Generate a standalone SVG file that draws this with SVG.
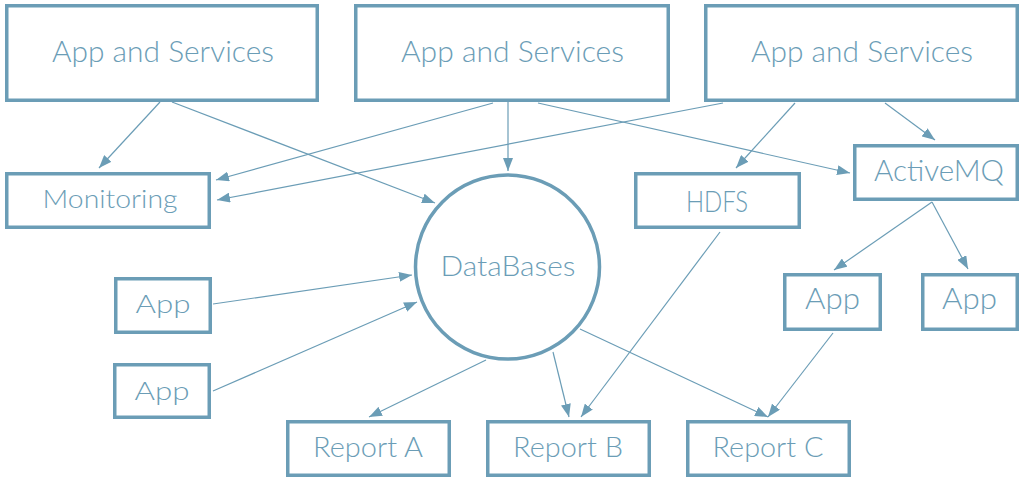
<svg xmlns="http://www.w3.org/2000/svg" width="1033" height="480" viewBox="0 0 1033 480">
<style>
.n{fill:#fff;stroke:#6b9db6;stroke-width:3.5}
.t{font-family:Lato,"Liberation Sans",sans-serif;font-weight:300;fill:#6b9db6;text-anchor:middle}
.big{font-size:30px}
.sm{font-size:25px}
.md{font-size:27px}
.lg{font-size:29px}
.c{stroke:#6b9db6;stroke-width:1.2;fill:none;marker-end:url(#ah)}
</style>
<defs>
<marker id="ah" markerUnits="userSpaceOnUse" markerWidth="14" markerHeight="10" refX="13" refY="5" orient="auto">
<path d="M0,0 L13,5 L0,10 z" fill="#6b9db6"/>
</marker>
</defs>
<rect width="1033" height="480" fill="#fff"/>
<g id="connectors">
<line class="c" x1="160" y1="102" x2="99" y2="168"/>
<line class="c" x1="172" y1="102" x2="435" y2="203"/>
<line class="c" x1="493" y1="103" x2="216" y2="180"/>
<line class="c" x1="723" y1="103" x2="217" y2="200"/>
<line class="c" x1="508" y1="101" x2="508" y2="171"/>
<line class="c" x1="538" y1="103" x2="850" y2="173"/>
<line class="c" x1="795" y1="103" x2="736" y2="168"/>
<line class="c" x1="885" y1="103" x2="935" y2="140"/>
<line class="c" x1="932" y1="202" x2="834" y2="270"/>
<line class="c" x1="932" y1="202" x2="968" y2="269"/>
<line class="c" x1="720" y1="232" x2="581" y2="417"/>
<line class="c" x1="833" y1="333" x2="768" y2="417"/>
<line class="c" x1="580" y1="329" x2="768" y2="417"/>
<line class="c" x1="553" y1="352" x2="569" y2="417"/>
<line class="c" x1="486" y1="360" x2="369" y2="417"/>
<line class="c" x1="213" y1="304" x2="412" y2="275"/>
<line class="c" x1="213" y1="391" x2="417" y2="302"/>
</g>
<g id="svc1"><rect class="n" x="6.75" y="5.75" width="310.5" height="94.5"/><text class="t big" x="163" y="62" textLength="222" lengthAdjust="spacingAndGlyphs">App and Services</text></g>
<g id="svc2"><rect class="n" x="355.75" y="5.75" width="312.5" height="94.5"/><text class="t big" x="512.5" y="62" textLength="223" lengthAdjust="spacingAndGlyphs">App and Services</text></g>
<g id="svc3"><rect class="n" x="705.75" y="5.75" width="311.5" height="94.5"/><text class="t big" x="862" y="62" textLength="222" lengthAdjust="spacingAndGlyphs">App and Services</text></g>
<g id="monitoring"><rect class="n" x="6.75" y="173.75" width="202.5" height="53.5"/><text class="t sm" x="110" y="208" textLength="135" lengthAdjust="spacingAndGlyphs">Monitoring</text></g>
<g id="databases"><circle class="n" cx="507.5" cy="267" r="92"/><text class="t md" x="508" y="276" textLength="135" lengthAdjust="spacingAndGlyphs">DataBases</text></g>
<g id="hdfs"><rect class="n" x="635.75" y="173.75" width="163.5" height="53.5"/><text class="t lg" x="717" y="212" textLength="62" lengthAdjust="spacingAndGlyphs">HDFS</text></g>
<g id="activemq"><rect class="n" x="854.75" y="145.75" width="162.5" height="53.5"/><text class="t lg" x="939" y="181" textLength="130" lengthAdjust="spacingAndGlyphs">ActiveMQ</text></g>
<g id="app1"><rect class="n" x="115.75" y="278.75" width="94.5" height="53.5"/><text class="t sm" x="163" y="313" textLength="55" lengthAdjust="spacingAndGlyphs">App</text></g>
<g id="app2"><rect class="n" x="114.75" y="364.75" width="94.5" height="52.5"/><text class="t sm" x="162" y="400" textLength="55" lengthAdjust="spacingAndGlyphs">App</text></g>
<g id="app3"><rect class="n" x="784.75" y="274.75" width="95.5" height="54.5"/><text class="t lg" x="832.5" y="309" textLength="55" lengthAdjust="spacingAndGlyphs">App</text></g>
<g id="app4"><rect class="n" x="922.75" y="274.75" width="94.5" height="54.5"/><text class="t lg" x="969.5" y="309" textLength="55" lengthAdjust="spacingAndGlyphs">App</text></g>
<g id="reportA"><rect class="n" x="287.75" y="421.75" width="161.5" height="53.5"/><text class="t md" x="368" y="457" textLength="110" lengthAdjust="spacingAndGlyphs">Report A</text></g>
<g id="reportB"><rect class="n" x="487.75" y="421.75" width="161.5" height="53.5"/><text class="t md" x="568" y="457" textLength="110" lengthAdjust="spacingAndGlyphs">Report B</text></g>
<g id="reportC"><rect class="n" x="687.75" y="421.75" width="161.5" height="53.5"/><text class="t md" x="768" y="457" textLength="111" lengthAdjust="spacingAndGlyphs">Report C</text></g>
</svg>
